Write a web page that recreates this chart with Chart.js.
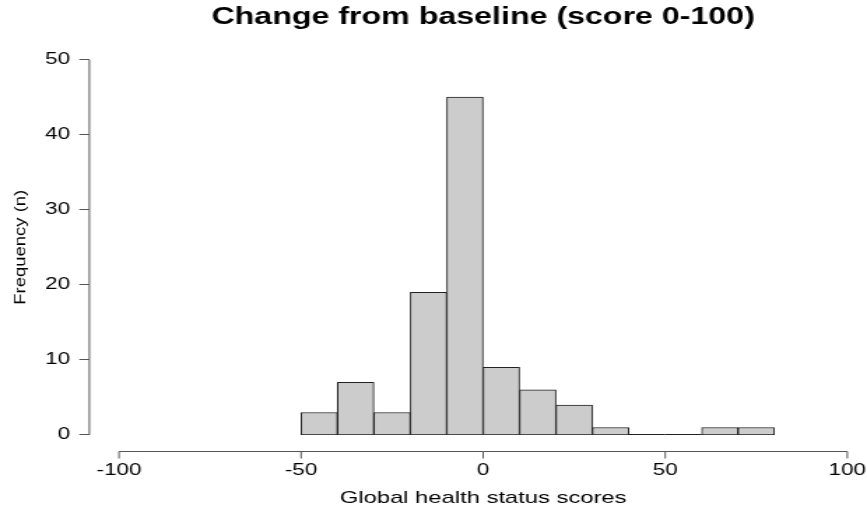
<!DOCTYPE html>
<html>
<head>
<meta charset="utf-8">
<script src="https://cdn.jsdelivr.net/npm/chart.js@4"></script>
<style>
  html, body { margin: 0; padding: 0; background: #fff; overflow: hidden; }
  #wrap { position: absolute; left: 0; top: 0; width: 620px; height: 512px;
          transform: scaleX(1.3984); transform-origin: 0 0; }
</style>
</head>
<body>
<div id="wrap"><canvas id="c"></canvas></div>
<script>
// ---- data ----
const binEdges = [-50, -40, -30, -20, -10, 0, 10, 20, 30, 40, 50, 60, 70, 80];
const counts   = [3, 7, 3, 19, 45, 9, 6, 4, 1, 0, 0, 1, 1];
const xTicks   = [-100, -50, 0, 50, 100];
const yTicks   = [0, 10, 20, 30, 40, 50];
const titleText  = 'Change from baseline (score 0-100)';
const xTitleText = 'Global health status scores';
const yTitleText = 'Frequency (n)';

const SX = 867 / 620;            // horizontal stretch of the reference image
const FONT = "'Liberation Sans', Arial, sans-serif";

const points = counts.map((c, i) => ({ x: (binEdges[i] + binEdges[i + 1]) / 2, y: c }));

// R-style detached axes, zero-count bins drawn as baseline segments, rotated y title
const rAxes = {
  id: 'rAxes',
  afterDatasetsDraw(chart) {
    const ctx = chart.ctx;
    const xs = chart.scales.x, ys = chart.scales.y;
    ctx.save();
    // zero-height bins -> line at 0
    ctx.strokeStyle = '#222';
    ctx.lineWidth = 1;
    counts.forEach((c, i) => {
      if (c === 0) {
        const y0 = Math.round(ys.getPixelForValue(0)) - 0.5;
        ctx.beginPath();
        ctx.moveTo(xs.getPixelForValue(binEdges[i]), y0);
        ctx.lineTo(xs.getPixelForValue(binEdges[i + 1]), y0);
        ctx.stroke();
      }
    });
    // y axis
    const ax = chart.chartArea.left - 21.2;
    const yTop = ys.getPixelForValue(yTicks[yTicks.length - 1]);
    const yBot = ys.getPixelForValue(yTicks[0]);
    ctx.strokeStyle = '#555';
    ctx.beginPath();
    ctx.moveTo(ax, yTop); ctx.lineTo(ax, yBot);
    yTicks.forEach(v => {
      const py = Math.round(ys.getPixelForValue(v)) - 0.5;
      ctx.moveTo(ax, py); ctx.lineTo(ax - 7.2, py);
    });
    ctx.stroke();
    // x axis
    const ay = Math.round(chart.chartArea.bottom + 16) + 0.5;
    ctx.beginPath();
    ctx.moveTo(xs.getPixelForValue(xTicks[0]), ay);
    ctx.lineTo(xs.getPixelForValue(xTicks[xTicks.length - 1]), ay);
    xTicks.forEach(v => {
      const px = xs.getPixelForValue(v);
      ctx.moveTo(px, ay); ctx.lineTo(px, ay + 7);
    });
    ctx.stroke();
    // y title (undo the horizontal stretch so glyphs stay narrow)
    ctx.translate(14.5, (chart.chartArea.top + chart.chartArea.bottom) / 2);
    ctx.scale(1 / SX, 1);
    ctx.rotate(-Math.PI / 2);
    ctx.scale(1.155, 1);
    ctx.fillStyle = '#000';
    ctx.font = '16px ' + FONT;
    ctx.textAlign = 'center';
    ctx.textBaseline = 'middle';
    ctx.fillText(yTitleText, 0, 0);
    ctx.restore();
  }
};

new Chart(document.getElementById('c'), {
  type: 'bar',
  data: {
    datasets: [{
      data: points,
      backgroundColor: '#cccccc',
      borderColor: '#222222',
      borderWidth: 1,
      borderSkipped: false,
      barPercentage: 1,
      categoryPercentage: 1
    }]
  },
  options: {
    responsive: true,
    maintainAspectRatio: false,
    animation: false,
    devicePixelRatio: 1,
    layout: { padding: { left: 0, right: 14.1, top: 0, bottom: 0 } },
    plugins: {
      legend: { display: false },
      tooltip: { enabled: false },
      title: {
        display: true,
        text: titleText,
        fullSize: false,
        color: '#000',
        font: { family: FONT, size: 23, weight: 'bold' },
        padding: { top: 4, bottom: 28 }
      }
    },
    scales: {
      x: {
        type: 'linear',
        offset: false,
        min: -100, max: 100,
        afterBuildTicks(scale) { scale.ticks = xTicks.map(v => ({ value: v })); },
        afterFit(scale) { scale.height = 77; },
        grid: { display: false, drawTicks: true, tickLength: 26 },
        border: { display: false },
        ticks: { color: '#000', font: { family: FONT, size: 16 }, padding: 0, maxRotation: 0, autoSkip: false },
        title: {
          display: true, text: xTitleText, color: '#000',
          font: { family: FONT, size: 17 }, padding: { top: 0, bottom: 3 }
        }
      },
      y: {
        min: 0, max: 50,
        afterBuildTicks(scale) { scale.ticks = yTicks.map(v => ({ value: v })); },
        afterFit(scale) { scale.width = 85.1; },
        grid: { display: false, drawTicks: true, tickLength: 35 },
        border: { display: false },
        ticks: { color: '#000', font: { family: FONT, size: 16 }, padding: 0 }
      }
    }
  },
  plugins: [rAxes]
});
</script>
</body>
</html>
